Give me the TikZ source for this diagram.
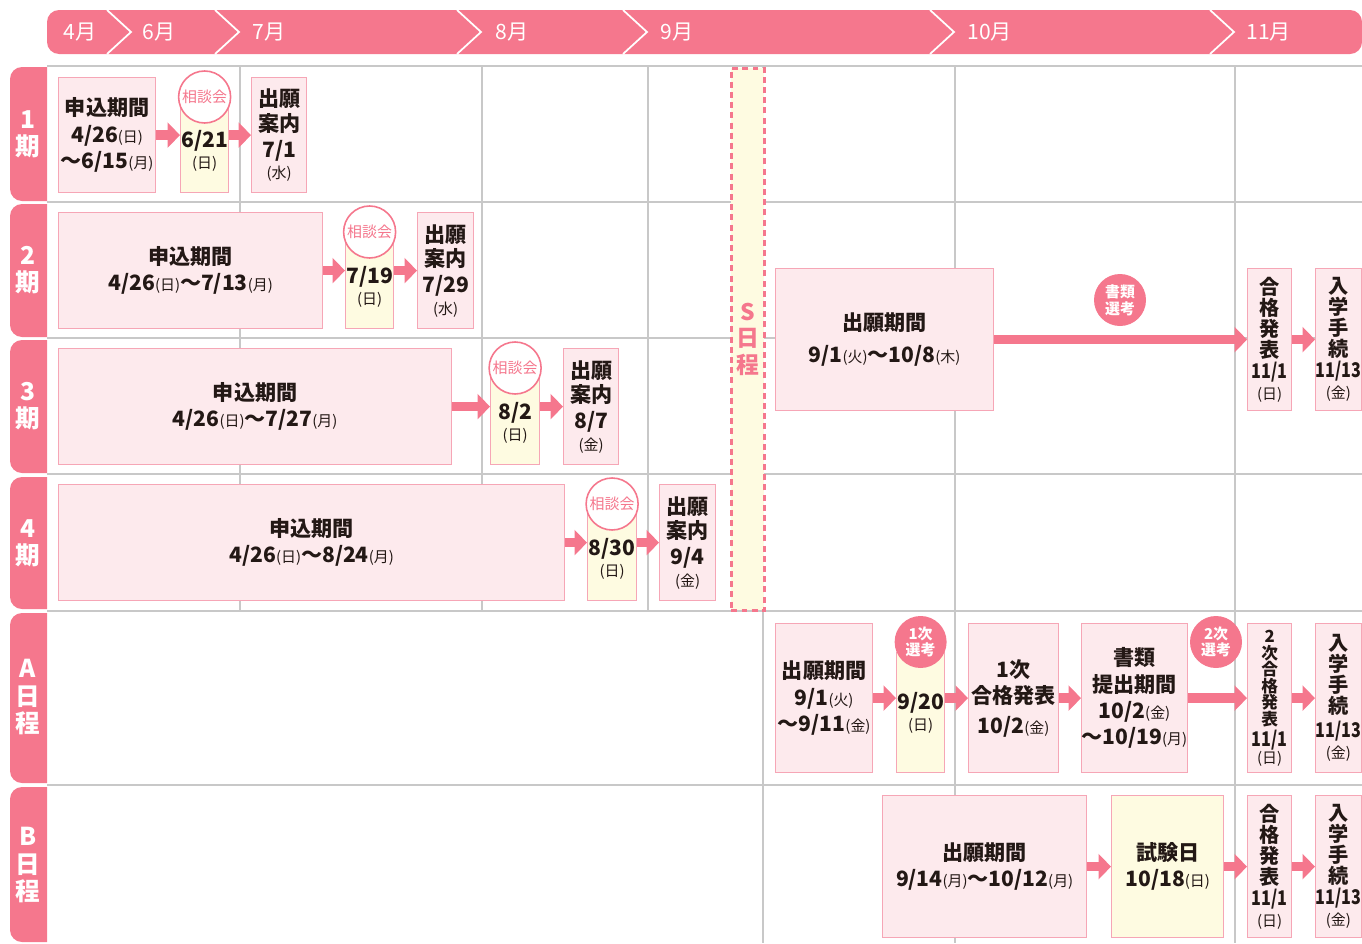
\documentclass[tikz,border=0pt]{standalone}
\usepackage{fontspec}
\setmainfont{Noto Sans CJK JP}
\newfontfamily\narrowjp{Noto Sans CJK JP}[FakeStretch=0.8]
\usetikzlibrary{arrows.meta,positioning}
\definecolor{pinkmain}{RGB}{245,119,141}
\definecolor{pinkline}{RGB}{246,166,182}
\definecolor{pinkbg}{RGB}{253,234,237}
\definecolor{yellowbg}{RGB}{254,251,225}
\definecolor{gridgray}{RGB}{200,200,200}
\definecolor{inkjp}{RGB}{35,24,21}
\newlength\px
\setlength\px{0.02cm}
\newcommand\yb[1]{{\fontsize{8.5}{9}\selectfont\mdseries(#1)}}
\newcommand\rowtab[2]{\fill[pinkmain] (47,#1) -- (22,#1) arc[start angle=90,end angle=180,radius=12\px] -- (10,#2-12) arc[start angle=180,end angle=270,radius=12\px] -- (47,#2) -- cycle;}
\tikzset{
  pbox/.style 2 args={draw=pinkline, fill=pinkbg, line width=0.7pt, minimum width=#1\px, minimum height=#2\px,
    inner sep=0pt, align=center, anchor=north west, text=inkjp, font=\fontsize{12}{15}\selectfont\bfseries},
  ybox/.style 2 args={pbox={#1}{#2}, fill=yellowbg},
  tate/.style={font=\fontsize{11.5}{11.9}\selectfont\bfseries},
  flow/.style={draw=pinkmain, line width=5.5pt, -{Triangle[length=7pt,width=14pt]}},
  talk/.style={circle, draw=pinkmain, fill=white, line width=0.9pt, minimum size=52\px, inner sep=0pt,
    text=pinkmain, font=\fontsize{8.5}{9}\selectfont},
  exam/.style={circle, fill=pinkmain, minimum size=52\px, inner sep=0pt, text=white, align=center,
    font=\fontsize{8.5}{9.5}\selectfont\bfseries},
  month/.style={anchor=west, inner sep=0pt, text=white, font=\fontsize{12}{14}\selectfont},
  tablab/.style={text=white, align=center, font=\fontsize{14}{15.5}\selectfont\bfseries},
  grid/.style={draw=gridgray, line width=0.6pt}
}
\begin{document}
\begin{tikzpicture}[x=0.02cm,y=-0.02cm]
\useasboundingbox (0,0) rectangle (1362,943);

% grid
\foreach \gy in {66,202,338,474,611,785} \draw[grid] (47,\gy) -- (1362,\gy);
\foreach \gx in {240,482,648} \draw[grid] (\gx,66) -- (\gx,611);
\foreach \gx in {763,955,1235} \draw[grid] (\gx,66) -- (\gx,943);

% month bar
\fill[pinkmain, rounded corners=0.24cm] (47,10) rectangle (1362,54);
\foreach \cx in {107,215,457,623,930,1210} \draw[white, line width=1pt] (\cx,10) -- (\cx+24,32) -- (\cx,54);
\foreach \mx/\mt/\nm in {63/4月/m4, 142/6月/m6, 252/7月/m7, 495/8月/m8, 660/9月/m9, 967/10月/m10, 1246/11月/m11}
  \node[month] (\nm) at (\mx,32) {\mt};

% row tabs
\rowtab{67}{201}
\rowtab{204}{337}
\rowtab{340}{473}
\rowtab{477}{609}
\rowtab{613}{783}
\rowtab{787}{942}
\node[tablab] (lab1) at (28,134) {1\\期};
\node[tablab] (lab2) at (28,270) {2\\期};
\node[tablab] (lab3) at (28,406) {3\\期};
\node[tablab] (lab4) at (28,543) {4\\期};
\node[tablab] (laba) at (28,697) {A\\日\\程};
\node[tablab] (labb) at (28,865) {B\\日\\程};

% S schedule column
\node[ybox={33}{542}, draw=pinkmain, line width=1.5pt, dash pattern=on 3.4pt off 2.4pt, text=pinkmain,
  font=\fontsize{13}{15.3}\selectfont\bfseries] (sched) at (730,67) {S\\日\\程};

% 1期
\node[pbox={97}{115}] (r1apply) at (58,77) {申込期間\\4/26\yb{日}\\～6/15\yb{月}};
\node[ybox={48}{85}] (r1meet) at (180,107) {\\[-4pt]6/21\\[-3pt]\yb{日}};
\node[pbox={55}{115}] (r1guide) at (251,77) {出願\\[-1pt]案内\\7/1\\[-3pt]\yb{水}};
\node[talk] (r1talk) at ([yshift=10\px]r1meet.north) {相談会};
\draw[flow] (r1apply.east) -- (r1apply.east -| r1meet.west);
\draw[flow] (r1apply.east -| r1meet.east) -- (r1apply.east -| r1guide.west);

% 2期
\node[pbox={264}{116}] (r2apply) at (58,212) {申込期間\\4/26\yb{日}～7/13\yb{月}};
\node[ybox={48}{86}] (r2meet) at (345,242) {\\[-4pt]7/19\\[-3pt]\yb{日}};
\node[pbox={56}{116}] (r2guide) at (417,212) {出願\\[-1pt]案内\\7/29\\[-3pt]\yb{水}};
\node[talk] (r2talk) at ([yshift=10\px]r2meet.north) {相談会};
\draw[flow] (r2apply.east) -- (r2apply.east -| r2meet.west);
\draw[flow] (r2apply.east -| r2meet.east) -- (r2apply.east -| r2guide.west);

% 3期
\node[pbox={393}{116}] (r3apply) at (58,348) {申込期間\\4/26\yb{日}～7/27\yb{月}};
\node[ybox={49}{86}] (r3meet) at (490,378) {\\[-4pt]8/2\\[-3pt]\yb{日}};
\node[pbox={55}{116}] (r3guide) at (563,348) {出願\\[-1pt]案内\\8/7\\[-3pt]\yb{金}};
\node[talk] (r3talk) at ([yshift=10\px]r3meet.north) {相談会};
\draw[flow] (r3apply.east) -- (r3apply.east -| r3meet.west);
\draw[flow] (r3apply.east -| r3meet.east) -- (r3apply.east -| r3guide.west);

% 4期
\node[pbox={506}{116}] (r4apply) at (58,484) {申込期間\\4/26\yb{日}～8/24\yb{月}};
\node[ybox={49}{86}] (r4meet) at (587,514) {\\[-4pt]8/30\\[-3pt]\yb{日}};
\node[pbox={56}{116}] (r4guide) at (659,484) {出願\\[-1pt]案内\\9/4\\[-3pt]\yb{金}};
\node[talk] (r4talk) at ([yshift=10\px]r4meet.north) {相談会};
\draw[flow] (r4apply.east) -- (r4apply.east -| r4meet.west);
\draw[flow] (r4apply.east -| r4meet.east) -- (r4apply.east -| r4guide.west);

% S日程
\node[pbox={218}{142}] (sapply) at (775,268) {出願期間\\[3pt]9/1\yb{火}～10/8\yb{木}};
\node[pbox={44}{142}, tate] (sresult) at (1247,268) {合\\格\\発\\表\\{\narrowjp 11/1}\\\yb{日}};
\node[pbox={45}{142}, tate] (senrol) at (1315,268) {入\\学\\手\\続\\{\narrowjp 11/13}\\\yb{金}};
\draw[flow] (sapply.east) -- (sapply.east -| sresult.west);
\draw[flow] (sresult.east) -- (senrol.west);
\node[exam] (sdocs) at (1120,300) {書類\\選考};

% A日程
\node[pbox={97}{149}] (aapply) at (775,623) {出願期間\\9/1\yb{火}\\～9/11\yb{金}};
\node[ybox={48}{120}] (afirst) at (896,652) {9/20\\[-3pt]\yb{日}};
\node[pbox={90}{149}] (apass1) at (968,623) {1次\\合格発表\\[2pt]10/2\yb{金}};
\node[pbox={105}{149}] (adocs) at (1081,623) {書類\\提出期間\\10/2\yb{金}\\～10/19\yb{月}};
\node[pbox={44}{149}, font=\fontsize{9.5}{9.4}\selectfont\bfseries] (apass2) at (1247,623)
  {2\\次\\合\\格\\発\\表\\[1pt]{\fontsize{11.5}{12}\selectfont\narrowjp 11/1}\\\yb{日}};
\node[pbox={45}{149}, tate] (aenrol) at (1315,623) {入\\学\\手\\続\\[2pt]{\narrowjp 11/13}\\\yb{金}};
\node[exam] (afirstexam) at ([yshift=10\px]afirst.north) {1次\\選考};
\node[exam] (asecondexam) at (1216,642) {2次\\選考};
\draw[flow] (aapply.east) -- (aapply.east -| afirst.west);
\draw[flow] (aapply.east -| afirst.east) -- (aapply.east -| apass1.west);
\draw[flow] (apass1.east) -- (adocs.west);
\draw[flow] (adocs.east) -- (apass2.west);
\draw[flow] (apass2.east) -- (aenrol.west);

% B日程
\node[pbox={204}{142}] (bapply) at (882,795) {出願期間\\9/14\yb{月}～10/12\yb{月}};
\node[ybox={112}{142}] (bexam) at (1111,795) {試験日\\10/18\yb{日}};
\node[pbox={44}{142}, tate] (bresult) at (1247,795) {合\\格\\発\\表\\{\narrowjp 11/1}\\\yb{日}};
\node[pbox={45}{142}, tate] (benrol) at (1315,795) {入\\学\\手\\続\\{\narrowjp 11/13}\\\yb{金}};
\draw[flow] (bapply.east) -- (bexam.west);
\draw[flow] (bexam.east) -- (bresult.west);
\draw[flow] (bresult.east) -- (benrol.west);
\end{tikzpicture}
\end{document}
